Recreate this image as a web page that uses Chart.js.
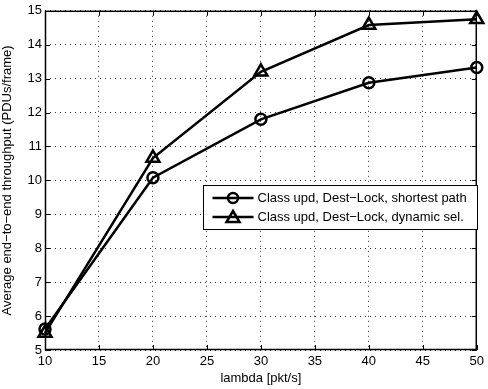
<!DOCTYPE html>
<html>
<head>
<meta charset="utf-8">
<script src="https://cdn.jsdelivr.net/npm/chart.js@4/dist/chart.umd.min.js"></script>
<style>
  html, body { margin: 0; padding: 0; background: #fff; }
  #wrap { width: 488px; height: 389px; }
</style>
</head>
<body>
<div id="wrap"><canvas id="mycanvas" width="488" height="389"></canvas></div>
<script>
var lambda = [10, 20, 30, 40, 50];
var shortestPath = [5.62, 10.08, 11.8, 12.88, 13.33];
var dynamicSel = [5.5, 10.66, 13.2, 14.58, 14.75];
var xTicks = [10, 15, 20, 25, 30, 35, 40, 45, 50];
var yTicks = [5, 6, 7, 8, 9, 10, 11, 12, 13, 14, 15];

var font = "'Liberation Sans', Arial, sans-serif";

function pts(ys) {
    var out = [];
    for (var i in lambda) out.push({x: lambda[i], y: ys[i]});
    return out;
}

// inner tick marks, matlab style, plus the legend box inside the plot
var matlabBits = {
    id: 'matlabBits',
    afterDraw: function(chart) {
        var c = chart.ctx, a = chart.chartArea;
        var xs = chart.scales.x, ys = chart.scales.y;
        c.save();
        c.strokeStyle = '#000';
        c.lineWidth = 1;
        c.beginPath();
        xTicks.forEach(function(v) {
            var px = Math.round(xs.getPixelForValue(v)) + 0.5;
            c.moveTo(px, a.bottom); c.lineTo(px, a.bottom - 5);
            c.moveTo(px, a.top); c.lineTo(px, a.top + 5);
        });
        yTicks.forEach(function(v) {
            var py = Math.round(ys.getPixelForValue(v)) + 0.5;
            c.moveTo(a.left, py); c.lineTo(a.left + 5, py);
            c.moveTo(a.right, py); c.lineTo(a.right - 5, py);
        });
        c.stroke();
        c.lineWidth = 1.5;
        c.strokeRect(a.left + 0.5, a.top + 0.5, a.right - a.left - 1, a.bottom - a.top - 1);

        // legend
        var bx = 203.5, by = 185.5, bw = 274, bh = 44;
        c.lineWidth = 1;
        c.fillStyle = '#fff';
        c.fillRect(bx, by, bw, bh);
        c.strokeRect(bx, by, bw, bh);
        c.font = '13px ' + font;
        c.textBaseline = 'middle';
        chart.data.datasets.forEach(function(ds, i) {
            var ly = by + 12.5 + i * 19;
            c.lineWidth = 2.5;
            c.beginPath();
            c.moveTo(bx + 9, ly); c.lineTo(bx + 50, ly);
            c.stroke();
            var cx = bx + 29.5;
            c.beginPath();
            if (ds.pointStyle === 'circle') {
                c.arc(cx, ly, 5, 0, Math.PI * 2);
            } else {
                c.moveTo(cx, ly - 6); c.lineTo(cx + 6.5, ly + 5); c.lineTo(cx - 6.5, ly + 5); c.closePath();
            }
            c.stroke();
            c.fillStyle = '#000';
            c.fillText(ds.label, bx + 54, ly);
        });
        c.restore();
    }
};

var chartdata = {
    datasets: [
        {
            label: "Class upd, Dest\u2212Lock, shortest path",
            data: pts(shortestPath),
            borderColor: "#000",
            backgroundColor: "rgba(0,0,0,0)",
            borderWidth: 2.5,
            pointStyle: 'circle',
            pointRadius: 5.5,
            pointBorderWidth: 2.5,
            pointBorderColor: "#000",
            pointBackgroundColor: "rgba(0,0,0,0)",
            fill: false,
            tension: 0
        },
        {
            label: "Class upd, Dest\u2212Lock, dynamic sel.",
            data: pts(dynamicSel),
            borderColor: "#000",
            backgroundColor: "rgba(0,0,0,0)",
            borderWidth: 2.5,
            pointStyle: 'triangle',
            pointRadius: 7.5,
            pointBorderWidth: 2.5,
            pointBorderColor: "#000",
            pointBackgroundColor: "rgba(0,0,0,0)",
            fill: false,
            tension: 0
        }
    ]
};

var ctx = document.getElementById('mycanvas');
var LineGraph = new Chart(ctx, {
    type: 'line',
    data: chartdata,
    plugins: [matlabBits],
    options: {
        responsive: false,
        animation: false,
        clip: false,
        layout: { padding: { top: 5, right: 1, left: 0, bottom: 3 } },
        plugins: { legend: { display: false }, tooltip: { enabled: false } },
        scales: {
            x: {
                type: 'linear',
                min: 10, max: 50,
                afterFit: function(s) { s.height = 36; },
                afterBuildTicks: function(s) { s.ticks = xTicks.map(function(v) { return {value: v}; }); },
                ticks: { color: '#000', font: { family: font, size: 13 }, padding: 4, maxRotation: 0 },
                grid: { color: '#333', lineWidth: 1, drawTicks: false, tickLength: 0 },
                border: { display: false, dash: [1, 4] },
                title: { display: true, text: 'lambda [pkt/s]', color: '#000', font: { family: font, size: 13 }, padding: { top: 0, bottom: 0 } }
            },
            y: {
                min: 5, max: 15,
                afterFit: function(s) { s.width = 45; },
                afterBuildTicks: function(s) { s.ticks = yTicks.map(function(v) { return {value: v}; }); },
                ticks: { color: '#000', font: { family: font, size: 13 }, padding: 3 },
                grid: { color: '#333', lineWidth: 1, drawTicks: false, tickLength: 0 },
                border: { display: false, dash: [1, 4] },
                title: { display: true, text: 'Average end\u2212to\u2212end throughput (PDUs/frame)', color: '#000', font: { family: font, size: 13 }, padding: { top: 0, bottom: 0 } }
            }
        }
    }
});
</script>
</body>
</html>
